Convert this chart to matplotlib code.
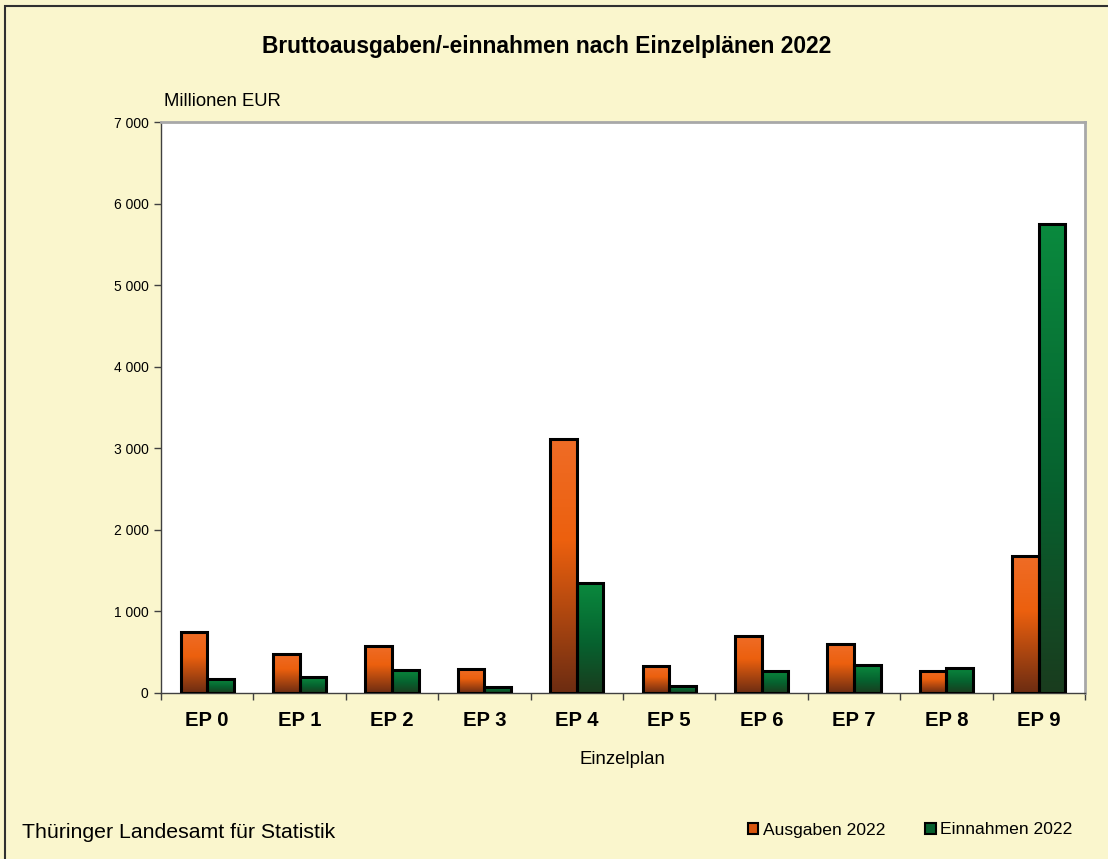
import numpy as np
import matplotlib
matplotlib.use("Agg")
from matplotlib import pyplot as plt
from matplotlib import colors as mcolors
from matplotlib.patches import Patch, Rectangle
from matplotlib.ticker import FuncFormatter, MultipleLocator, FixedLocator

categories = ["EP 0", "EP 1", "EP 2", "EP 3", "EP 4", "EP 5", "EP 6", "EP 7", "EP 8", "EP 9"]
ausgaben = [744, 482, 576, 290, 3109, 327, 695, 597, 270, 1679]
einnahmen = [168, 192, 282, 78, 1352, 86, 273, 339, 310, 5748]
series_labels = ["Ausgaben 2022", "Einnahmen 2022"]

plt.rcParams['font.family'] = ['Liberation Sans', 'DejaVu Sans']

BG = "#FAF6CD"
orange_cmap = mcolors.LinearSegmentedColormap.from_list(
    "orange", [(0.0, "#EF6C26"), (0.4, "#EC600E"), (1.0, "#6C2C12")])
green_cmap = mcolors.LinearSegmentedColormap.from_list(
    "green", [(0.0, "#0A8A3E"), (0.55, "#06622F"), (1.0, "#1A3C1E")])


def gradient_bars(ax, bars, cmap):
    grad = np.linspace(0, 1, 256).reshape(-1, 1)
    for bar in bars:
        x0, y0 = bar.get_x(), bar.get_y()
        w, h = bar.get_width(), bar.get_height()
        im = ax.imshow(grad, cmap=cmap, aspect="auto", origin="upper",
                       extent=(x0, x0 + w, y0, y0 + h), zorder=2,
                       interpolation="bilinear")
        im.set_clip_path(bar)
        bar.set_facecolor("none")


fig = plt.figure(figsize=(11.08, 8.59), dpi=100, facecolor=BG)
ax = fig.add_axes([161 / 1108, 1 - 693 / 859, (1085 - 161) / 1108, (693 - 122) / 859])
ax.set_facecolor("white")

x = np.arange(len(categories))
w = 0.287
b1 = ax.bar(x - w / 2, ausgaben, w, edgecolor="black", linewidth=2.2, zorder=3)
b2 = ax.bar(x + w / 2, einnahmen, w, edgecolor="black", linewidth=2.2, zorder=3)
gradient_bars(ax, b1, orange_cmap)
gradient_bars(ax, b2, green_cmap)

ax.set_xlim(-0.5, len(categories) - 0.5)
ax.set_ylim(0, 7000)
ax.yaxis.set_major_locator(MultipleLocator(1000))
ax.yaxis.set_major_formatter(FuncFormatter(lambda v, p: f"{int(v):,}".replace(",", " ")))
ax.tick_params(axis="y", direction="out", length=5, width=1, pad=4, labelsize=10, colors="#404040",
               labelcolor="black")

ax.set_xticks(x)
ax.set_xticklabels(categories, fontsize=14.6, fontweight="bold")
ax.xaxis.set_minor_locator(FixedLocator(np.arange(-0.5, len(categories), 1.0)))
ax.tick_params(axis="x", which="major", length=0, pad=13)
ax.tick_params(axis="x", which="minor", direction="out", length=5, width=1, colors="#404040")

for side in ["left", "bottom"]:
    ax.spines[side].set_color("#404040")
    ax.spines[side].set_linewidth(1)
for side in ["top", "right"]:
    ax.spines[side].set_color("#A8A8A8")
    ax.spines[side].set_linewidth(2)

fig.text(547 / 1108, 1 - 47 / 859, "Bruttoausgaben/-einnahmen nach Einzelplänen 2022",
         ha="center", va="center", fontsize=16.4, fontweight="bold")
fig.text(164 / 1108, 1 - 101 / 859, "Millionen EUR", ha="left", va="center", fontsize=13.3)
fig.text(622 / 1108, 1 - 759 / 859, "Einzelplan", ha="center", va="center", fontsize=13.4)
fig.text(22 / 1108, 1 - 832 / 859, "Thüringer Landesamt für Statistik", ha="left", va="center",
         fontsize=15.3)

handles = [Patch(facecolor="#D8560E", edgecolor="black", linewidth=1.5),
           Patch(facecolor="#06602F", edgecolor="black", linewidth=1.5)]
fig.legend(handles, series_labels, loc="center left", bbox_to_anchor=(739 / 1108, 1 - 830 / 859),
           ncol=2, frameon=False, fontsize=12.6, handlelength=0.6, handleheight=0.6,
           handletextpad=0.25, columnspacing=2.3, borderpad=0)

fig.patches.append(Rectangle((5 / 1108, -0.1), 1.2, 1.1 - 6 / 859, transform=fig.transFigure,
                             fill=False, edgecolor="#303030", linewidth=1.5))

fig.savefig("out.png", dpi=100, facecolor=BG)
